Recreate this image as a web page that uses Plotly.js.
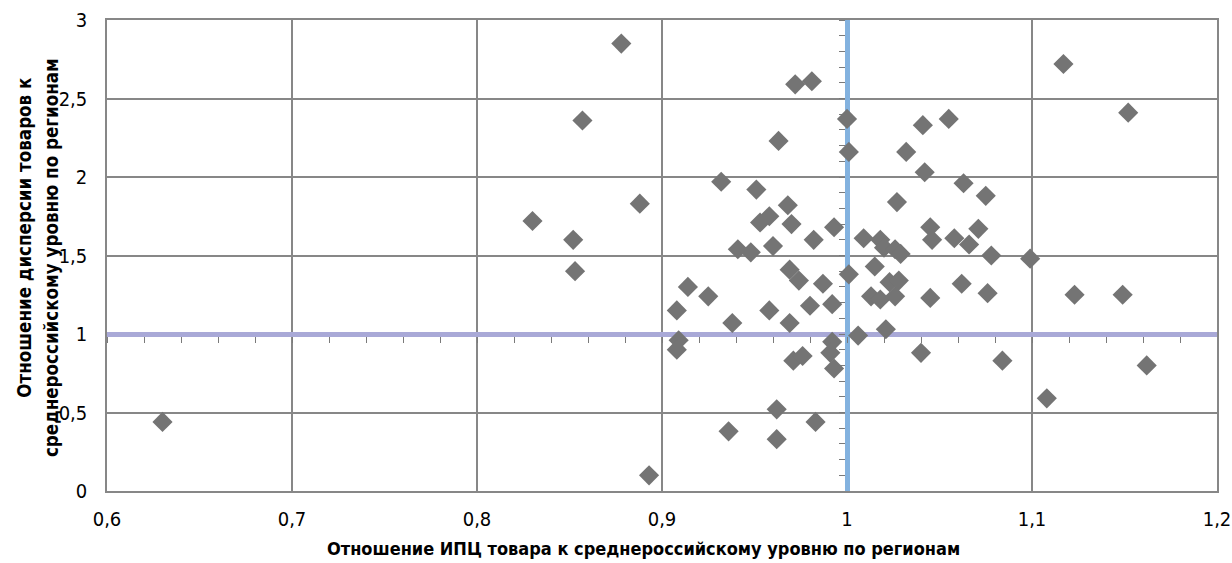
<!DOCTYPE html>
<html>
<head>
<meta charset="utf-8">
<script src="https://cdn.plot.ly/plotly-3.0.1.min.js"></script>
<style>
html,body{margin:0;padding:0;background:#fff;}
#chart{width:1232px;height:563px;}
</style>
</head>
<body>
<div id="chart"></div>
<script>
// Отношение ИПЦ товара к среднероссийскому уровню (x) и отношение дисперсии (y)
const cpiRatio = [
  0.630, 0.830, 0.852, 0.853, 0.857, 0.878, 0.888, 0.893, 0.908, 0.909,
  0.908, 0.914, 0.925, 0.932, 0.936, 0.938, 0.941, 0.948, 0.951, 0.953,
  0.958, 0.958, 0.960, 0.962, 0.962, 0.963, 0.968, 0.969, 0.970, 0.969,
  0.971, 0.972, 0.974, 0.976, 0.980, 0.981, 0.982, 0.983, 0.987, 0.992,
  0.992, 0.991, 0.993, 0.993, 1.000, 1.001, 1.001, 1.006, 1.009, 1.013,
  1.015, 1.018, 1.020, 1.018, 1.021, 1.023, 1.026, 1.026, 1.028, 1.029,
  1.027, 1.032, 1.040, 1.041, 1.042, 1.045, 1.046, 1.045, 1.055, 1.058,
  1.062, 1.063, 1.066, 1.071, 1.075, 1.076, 1.078, 1.084, 1.099, 1.108,
  1.117, 1.123, 1.149, 1.152, 1.162
];
const dispRatio = [
  0.44, 1.72, 1.60, 1.40, 2.36, 2.85, 1.83, 0.10, 1.15, 0.96,
  0.90, 1.30, 1.24, 1.97, 0.38, 1.07, 1.54, 1.52, 1.92, 1.71,
  1.75, 1.15, 1.56, 0.52, 0.33, 2.23, 1.82, 1.41, 1.70, 1.07,
  0.83, 2.59, 1.34, 0.86, 1.18, 2.61, 1.60, 0.44, 1.32, 1.19,
  0.95, 0.88, 0.78, 1.68, 2.37, 2.16, 1.38, 0.99, 1.61, 1.24,
  1.43, 1.60, 1.55, 1.22, 1.03, 1.33, 1.54, 1.24, 1.34, 1.51,
  1.84, 2.16, 0.88, 2.33, 2.03, 1.68, 1.60, 1.23, 2.37, 1.61,
  1.32, 1.96, 1.57, 1.67, 1.88, 1.26, 1.50, 0.83, 1.48, 0.59,
  2.72, 1.25, 1.25, 2.41, 0.80
];
const xTickVals = [0.6, 0.7, 0.8, 0.9, 1.0, 1.1, 1.2];
const yTickVals = [0, 0.5, 1, 1.5, 2, 2.5, 3];
const xRange = [0.6, 1.2];
const yRange = [0, 3];
const xCross = 1;  // горизонтальная ось пересекает вертикальную в y = 1
const yCross = 1;  // вертикальная ось в x = 1

const xTitle = 'Отношение ИПЦ товара к среднероссийскому уровню по регионам';
const yTitleLines = ['Отношение дисперсии товаров к', 'среднероссийскому уровню по регионам'];

const FONT = '"DejaVu Sans Condensed", "Liberation Sans Narrow", sans-serif';
const GRID = '#878787';

const trace = {
  type: 'scatter',
  mode: 'markers',
  x: cpiRatio,
  y: dispRatio,
  marker: {symbol: 'diamond', size: 15.5, color: '#747474', line: {width: 0}},
  hoverinfo: 'x+y',
  showlegend: false
};

const xTitleFont = {family: FONT, size: 18, color: '#000'};
const yTitleFont = {family: FONT, size: 18.6, color: '#000'};

const layout = {
  width: 1232,
  height: 563,
  margin: {l: 107, r: 15, t: 20, b: 72},
  paper_bgcolor: '#ffffff',
  plot_bgcolor: '#ffffff',
  separators: ', ',
  showlegend: false,
  font: {family: FONT, size: 19, color: '#000000'},
  xaxis: {
    range: xRange,
    tickvals: xTickVals,
    showgrid: true,
    gridcolor: GRID,
    gridwidth: 1.5,
    zeroline: false,
    showline: true,
    linecolor: GRID,
    linewidth: 1.5,
    mirror: true,
    ticks: '',
    ticklabelstandoff: 9,
    tickfont: {family: FONT, size: 20, color: '#000'}
  },
  yaxis: {
    range: yRange,
    tickvals: yTickVals,
    showgrid: true,
    gridcolor: GRID,
    gridwidth: 1.5,
    zeroline: false,
    showline: true,
    linecolor: GRID,
    linewidth: 1.5,
    mirror: true,
    ticks: '',
    ticklabelstandoff: 14,
    tickfont: {family: FONT, size: 20, color: '#000'}
  },
  xaxis2: {
    overlaying: 'x',
    anchor: 'free',
    position: (xCross - yRange[0]) / (yRange[1] - yRange[0]),
    range: xRange,
    showgrid: false,
    zeroline: false,
    showticklabels: false,
    showline: true,
    linecolor: '#a9a9d7',
    linewidth: 4.5,
    ticks: 'outside',
    ticklen: 6,
    tickwidth: 1.2,
    tickcolor: '#7a7a7a',
    dtick: 0.1,
    tick0: 0.6,
    minor: {dtick: 0.02, ticks: 'outside', ticklen: 6, tickwidth: 1.2, tickcolor: '#7a7a7a'},
    layer: 'below traces'
  },
  yaxis2: {
    overlaying: 'y',
    anchor: 'free',
    position: (yCross - xRange[0]) / (xRange[1] - xRange[0]),
    range: yRange,
    showgrid: false,
    zeroline: false,
    showticklabels: false,
    showline: true,
    linecolor: '#83b2df',
    linewidth: 4.5,
    ticks: 'outside',
    ticklen: 6,
    tickwidth: 1.2,
    tickcolor: '#7a7a7a',
    dtick: 0.5,
    tick0: 0,
    minor: {dtick: 0.1, ticks: 'outside', ticklen: 6, tickwidth: 1.2, tickcolor: '#7a7a7a'},
    layer: 'below traces'
  },
  annotations: [
    {text: '<b>' + xTitle + '</b>', xref: 'paper', yref: 'paper', x: 0.4829, y: -0.122,
     xanchor: 'center', yanchor: 'middle', showarrow: false, font: xTitleFont},
    {text: '<b>' + yTitleLines[0] + '</b>', xref: 'paper', yref: 'paper', x: -0.0743, y: 0.539,
     xanchor: 'center', yanchor: 'middle', textangle: -90, showarrow: false, font: yTitleFont},
    {text: '<b>' + yTitleLines[1] + '</b>', xref: 'paper', yref: 'paper', x: -0.0495, y: 0.4947,
     xanchor: 'center', yanchor: 'middle', textangle: -90, showarrow: false, font: yTitleFont}
  ]
};

const ghost = {type: 'scatter', mode: 'markers', x: [], y: [], xaxis: 'x2', yaxis: 'y2', showlegend: false, hoverinfo: 'skip'};

Plotly.newPlot('chart', [ghost, trace], layout, {displayModeBar: false, responsive: false});
</script>
</body>
</html>
